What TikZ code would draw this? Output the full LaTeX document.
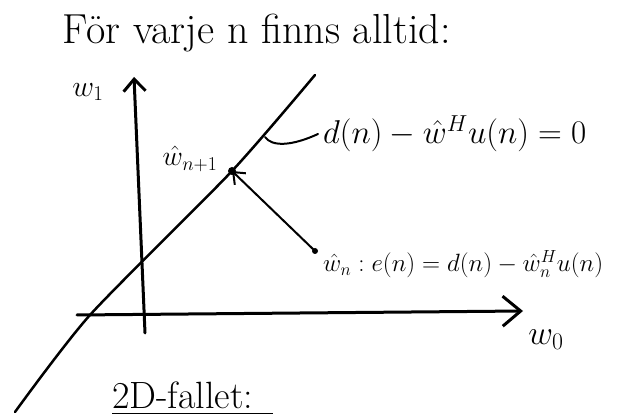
\RequirePackage{fix-cm}
\documentclass[tikz,border=0pt]{standalone}
\usepackage{amsmath}
\usetikzlibrary{arrows.meta}

\begin{document}
\begin{tikzpicture}[x=1pt, y=-1pt,
    axisline/.style={line width=3pt, line cap=round},
    curve/.style={line width=2.5pt, line cap=round},
    thin line/.style={line width=2pt, line cap=round},
    hand/.style={inner sep=0pt, font=\fontsize{#1}{#1}\selectfont}]
  \useasboundingbox (0,0) rectangle (626,419);

  % Title
  \node[hand=42, anchor=base west] (title) at (62,44) {För varje n finns alltid:};

  % Axes
  \coordinate (v0) at (145,333);
  \coordinate (v1) at (134,77);
  \coordinate (h0) at (77,315);
  \coordinate (h1) at (523,311);
  \draw[axisline, -{Straight Barb[length=12pt, width=22pt]}] (v0) -- (v1);
  \draw[axisline, -{Straight Barb[length=18pt, width=30pt]}] (h0) -- (h1);
  \node[hand=30] (w1) at (88,92) {$w_1$};
  \node[hand=34] (w0) at (546,340) {$w_0$};

  % Line d(n) - w^H u(n) = 0
  \coordinate (lineA) at (15,412);
  \coordinate (lineX) at (90,315);
  \coordinate (wnext) at (232,171);
  \coordinate (lineB) at (315,75);
  \draw[curve] plot[smooth, tension=0.4] coordinates {(lineA) (lineX) (wnext) (lineB)};
  \coordinate (hook) at (265,137);
  \node[hand=33, anchor=west, inner xsep=5pt] (plane) at (318,134) {$d(n) - \hat{w}^H u(n) = 0$};
  \draw[thin line] (hook) .. controls (272,147) and (292,146) .. (plane.west);

  % Update step
  \coordinate (wcur) at (315,251);
  \fill (wnext) circle (4pt);
  \fill (wcur) circle (3pt);
  \draw[thin line, -{Straight Barb[length=10pt, width=16pt]}] (wcur) -- (wnext);
  \node[hand=28] (lnext) at (190,159) {$\hat{w}_{n+1}$};
  \node[hand=25, anchor=west] (lcur) at (323,264) {$\hat{w}_n : e(n) = d(n) - \hat{w}_n^H u(n)$};

  % Caption
  \node[hand=38, anchor=base west] (case) at (112,408) {2D-fallet:};
  \draw[line width=1.5pt] ([yshift=-5pt]case.south west) -- ([yshift=-5pt, xshift=20pt]case.south east);
\end{tikzpicture}
\end{document}
